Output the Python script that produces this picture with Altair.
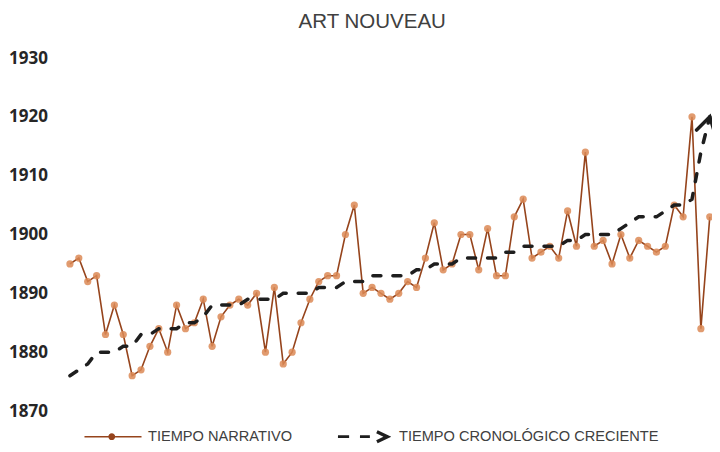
import altair as alt
import pandas as pd

titulo = "ART NOUVEAU"
series = ["TIEMPO NARRATIVO", "TIEMPO CRONOLÓGICO CRECIENTE"]
ticks_y = [1870, 1880, 1890, 1900, 1910, 1920, 1930]

tiempo_narrativo = [1895, 1896, 1892, 1893, 1883, 1888, 1883, 1876, 1877, 1881,
                    1884, 1880, 1888, 1884, 1885, 1889, 1881, 1886, 1888, 1889,
                    1888, 1890, 1880, 1891, 1878, 1880, 1885, 1889, 1892, 1893,
                    1893, 1900, 1905, 1890, 1891, 1890, 1889, 1890, 1892, 1891,
                    1896, 1902, 1894, 1895, 1900, 1900, 1894, 1901, 1893, 1893,
                    1903, 1906, 1896, 1897, 1898, 1896, 1904, 1898, 1914, 1898,
                    1899, 1895, 1900, 1896, 1899, 1898, 1897, 1898, 1905, 1903,
                    1920, 1884, 1903]

tiempo_cronologico = [1876, 1877, 1878, 1880, 1880, 1880, 1881, 1881, 1883, 1883,
                      1884, 1884, 1884, 1885, 1885, 1886, 1888, 1888, 1888, 1888,
                      1889, 1889, 1889, 1889, 1890, 1890, 1890, 1890, 1891, 1891,
                      1891, 1892, 1892, 1892, 1893, 1893, 1893, 1893, 1893, 1894,
                      1894, 1895, 1895, 1895, 1896, 1896, 1896, 1896, 1896, 1897,
                      1897, 1898, 1898, 1898, 1898, 1898, 1899, 1899, 1900, 1900,
                      1900, 1900, 1901, 1902, 1903, 1903, 1903, 1904, 1905, 1905,
                      1906, 1914, 1920]

n = len(tiempo_narrativo)
df = pd.DataFrame({"i": list(range(n)), "narr": tiempo_narrativo, "cron": tiempo_cronologico})
df_end = df.tail(1)

BROWN = "#96441C"
ORANGE = "#DC8A56"
BLACK = "#1E1E1E"

x_enc = alt.X("i:Q", axis=None,
              scale=alt.Scale(domain=[-0.5, n - 0.75], nice=False, zero=False))
y_scale = alt.Scale(domain=[1870, 1930], nice=False, zero=False)
y_axis = alt.Axis(values=ticks_y, labelFont="Open Sans", labelFontWeight="bold",
                  labelFontSize=17, labelColor="#262626", labelPadding=18,
                  domain=False, ticks=False, grid=False, title=None, format="d")

line_narr = alt.Chart(df).mark_line(color=BROWN, strokeWidth=1.6).encode(
    x=x_enc, y=alt.Y("narr:Q", scale=y_scale, axis=y_axis))
pts_narr = alt.Chart(df).mark_point(filled=True, size=52, color=ORANGE, opacity=0.85).encode(
    x=x_enc, y=alt.Y("narr:Q", scale=y_scale, axis=y_axis))
line_cron = alt.Chart(df).mark_line(color=BLACK, strokeWidth=3.5, strokeDash=[8, 12],
                                    strokeCap="round").encode(
    x=x_enc, y=alt.Y("cron:Q", scale=y_scale, axis=y_axis))
arrow = alt.Chart(df_end).mark_point(shape="M-0.6,1L0,0L0.6,1", filled=False, size=1024,
                                     angle=14, color=BLACK, strokeWidth=3.5, opacity=1,
                                     strokeCap="round").encode(
    x=x_enc, y=alt.Y("cron:Q", scale=y_scale, axis=y_axis))

sym_narr = ("M-0.92,-0.026L0.92,-0.026L0.92,0.026L-0.92,0.026Z"
            "M0.07,0A0.11,0.11,0,1,1,-0.15,0A0.11,0.11,0,1,1,0.07,0Z")
sym_cron = ("M-0.84,-0.045L-0.48,-0.045L-0.48,0.045L-0.84,0.045Z"
            "M-0.13,-0.045L0.19,-0.045L0.19,0.045L-0.13,0.045Z"
            "M0.44,-0.21L0.88,0L0.44,0.21L0.393,0.111L0.626,0L0.393,-0.111Z")

leg = dict(title=None, orient="none", legendX=16.5, legendY=347.5, direction="horizontal",
           symbolSize=3844, symbolStrokeWidth=0, labelFont="Liberation Sans",
           labelFontSize=14.6, labelColor="#404040", columnPadding=40, labelOffset=4,
           padding=0, labelLimit=400)

legend_layer = alt.Chart(pd.DataFrame({"serie": series})).transform_filter("false").mark_point(
    filled=True, opacity=1).encode(
    color=alt.Color("serie:N", scale=alt.Scale(domain=series, range=[BROWN, BLACK]),
                    legend=alt.Legend(**leg)),
    shape=alt.Shape("serie:N", scale=alt.Scale(domain=series, range=[sym_narr, sym_cron]),
                    legend=alt.Legend(**leg)))

chart = alt.layer(line_narr, pts_narr, line_cron, arrow, legend_layer).properties(
    width=646.5, height=353,
    title=alt.TitleParams(titulo, font="Liberation Sans", fontSize=20.5, fontWeight="normal",
                          color="#404040", anchor="middle", frame="group", dx=-16.5,
                          offset=16.5),
    autosize=alt.AutoSizeParams(type="none"),
    padding={"left": 57.5, "top": 50, "right": 0, "bottom": 33},
).configure(background="white", view=alt.ViewConfig(strokeWidth=0, strokeOpacity=0))

chart.save("out.html", embed_options={"renderer": "svg", "actions": False})
